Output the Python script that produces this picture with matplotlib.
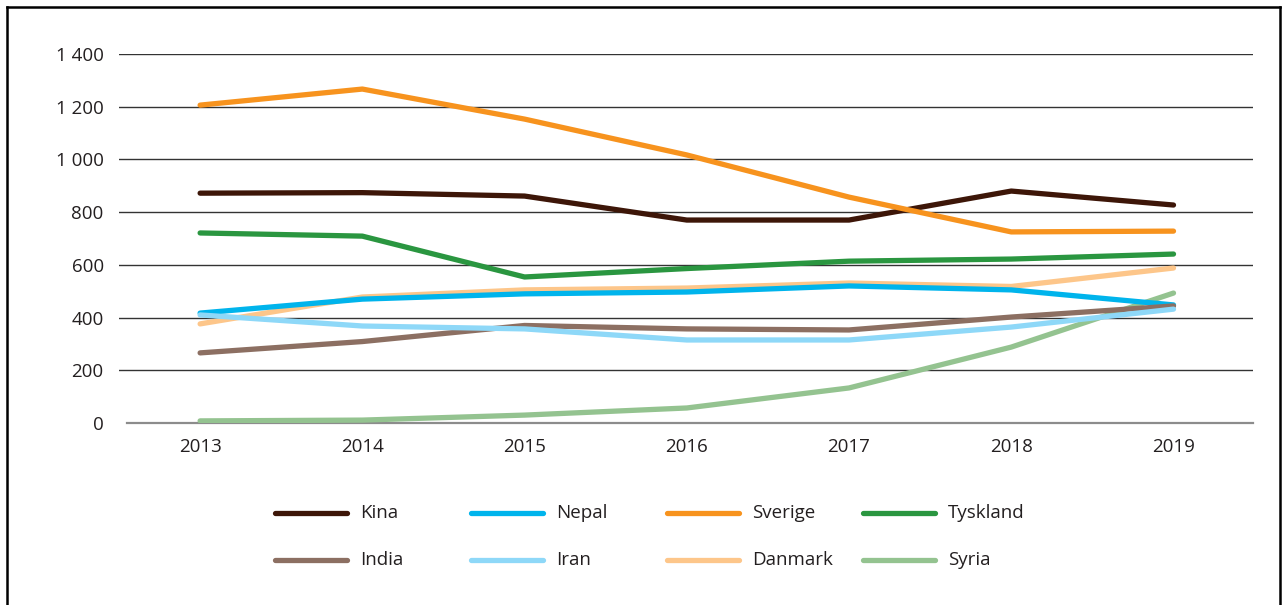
import matplotlib
matplotlib.use("Agg")
import matplotlib.pyplot as plt
from matplotlib.lines import Line2D
from matplotlib.ticker import FuncFormatter

plt.rcParams['font.family'] = ['Open Sans', 'DejaVu Sans']

years = [2013, 2014, 2015, 2016, 2017, 2018, 2019]
series_names = ["Kina", "Nepal", "Sverige", "Tyskland", "India", "Iran", "Danmark", "Syria"]
kina = [872, 874, 861, 770, 770, 880, 827]
nepal = [417, 470, 490, 497, 520, 505, 448]
sverige = [1206, 1267, 1153, 1017, 857, 725, 728]
tyskland = [721, 709, 554, 586, 614, 622, 641]
india = [266, 309, 370, 357, 353, 402, 444]
iran = [410, 368, 357, 315, 315, 364, 432]
danmark = [376, 478, 505, 512, 531, 518, 588]
syria = [8, 11, 30, 57, 133, 288, 493]
yticks = [0, 200, 400, 600, 800, 1000, 1200, 1400]

values = [kina, nepal, sverige, tyskland, india, iran, danmark, syria]
colors = ["#3d1608", "#00b4ec", "#f7931e", "#2a9640", "#8c6f62", "#8ed8f8", "#fdc68a", "#94c390"]
zorders = [3, 6, 4, 5, 7, 8, 2, 1]

FS = 13.5
TXT = "#231f20"

W, H = 1285, 605
fig = plt.figure(figsize=(W / 100, H / 100), dpi=100)
ax = fig.add_axes([119 / W, 1 - 423 / H, (1253 - 119) / W, (423 - 54) / H])

for ytk in yticks[1:]:
    ax.axhline(ytk, color="#333333", lw=1.0, zorder=0.5)

for name, vals, c, z in zip(series_names, values, colors, zorders):
    ax.plot(years, vals, color=c, lw=3.8, solid_capstyle="round",
            solid_joinstyle="round", zorder=z + 1, label=name)

ax.set_xlim(2012.5, 2019.49)
ax.set_ylim(0, 1400)
ax.set_xticks(years)
ax.set_yticks(yticks)
ax.yaxis.set_major_formatter(FuncFormatter(lambda v, p: f"{int(v):,}".replace(",", " ")))
ax.tick_params(axis="both", length=0, labelsize=FS, colors=TXT)
ax.tick_params(axis="y", pad=11)
ax.tick_params(axis="x", pad=11)
for s in ["top", "right", "left"]:
    ax.spines[s].set_visible(False)
ax.spines["bottom"].set_color("#8c8c8c")
ax.spines["bottom"].set_linewidth(1.6)
ax.spines["bottom"].set_bounds(2012.55, 2019.49)
ax.spines["bottom"].set_zorder(0.6)

# manual legend, 4 columns x 2 rows
col_x = [275, 471, 667, 863]
row_y = [513, 560]
for i, (name, c) in enumerate(zip(series_names, colors)):
    r, cc = divmod(i, 4)
    x0 = col_x[cc]
    y = 1 - row_y[r] / H
    fig.add_artist(Line2D([x0 / W, (x0 + 72) / W], [y, y], color=c, lw=3.8,
                          solid_capstyle="round", transform=fig.transFigure))
    fig.text((x0 + 85) / W, y, name, ha="left", va="center", fontsize=FS,
             color=TXT)

# frame
frame_kw = dict(color="black", lw=1.8, transform=fig.transFigure)
fig.add_artist(Line2D([7 / W, 7 / W], [0, 1 - 7 / H], **frame_kw))
fig.add_artist(Line2D([7 / W, 1280 / W], [1 - 7 / H, 1 - 7 / H], **frame_kw))
fig.add_artist(Line2D([1280 / W, 1280 / W], [0, 1 - 7 / H], **frame_kw))

fig.savefig("out.png", dpi=100, facecolor="white")
